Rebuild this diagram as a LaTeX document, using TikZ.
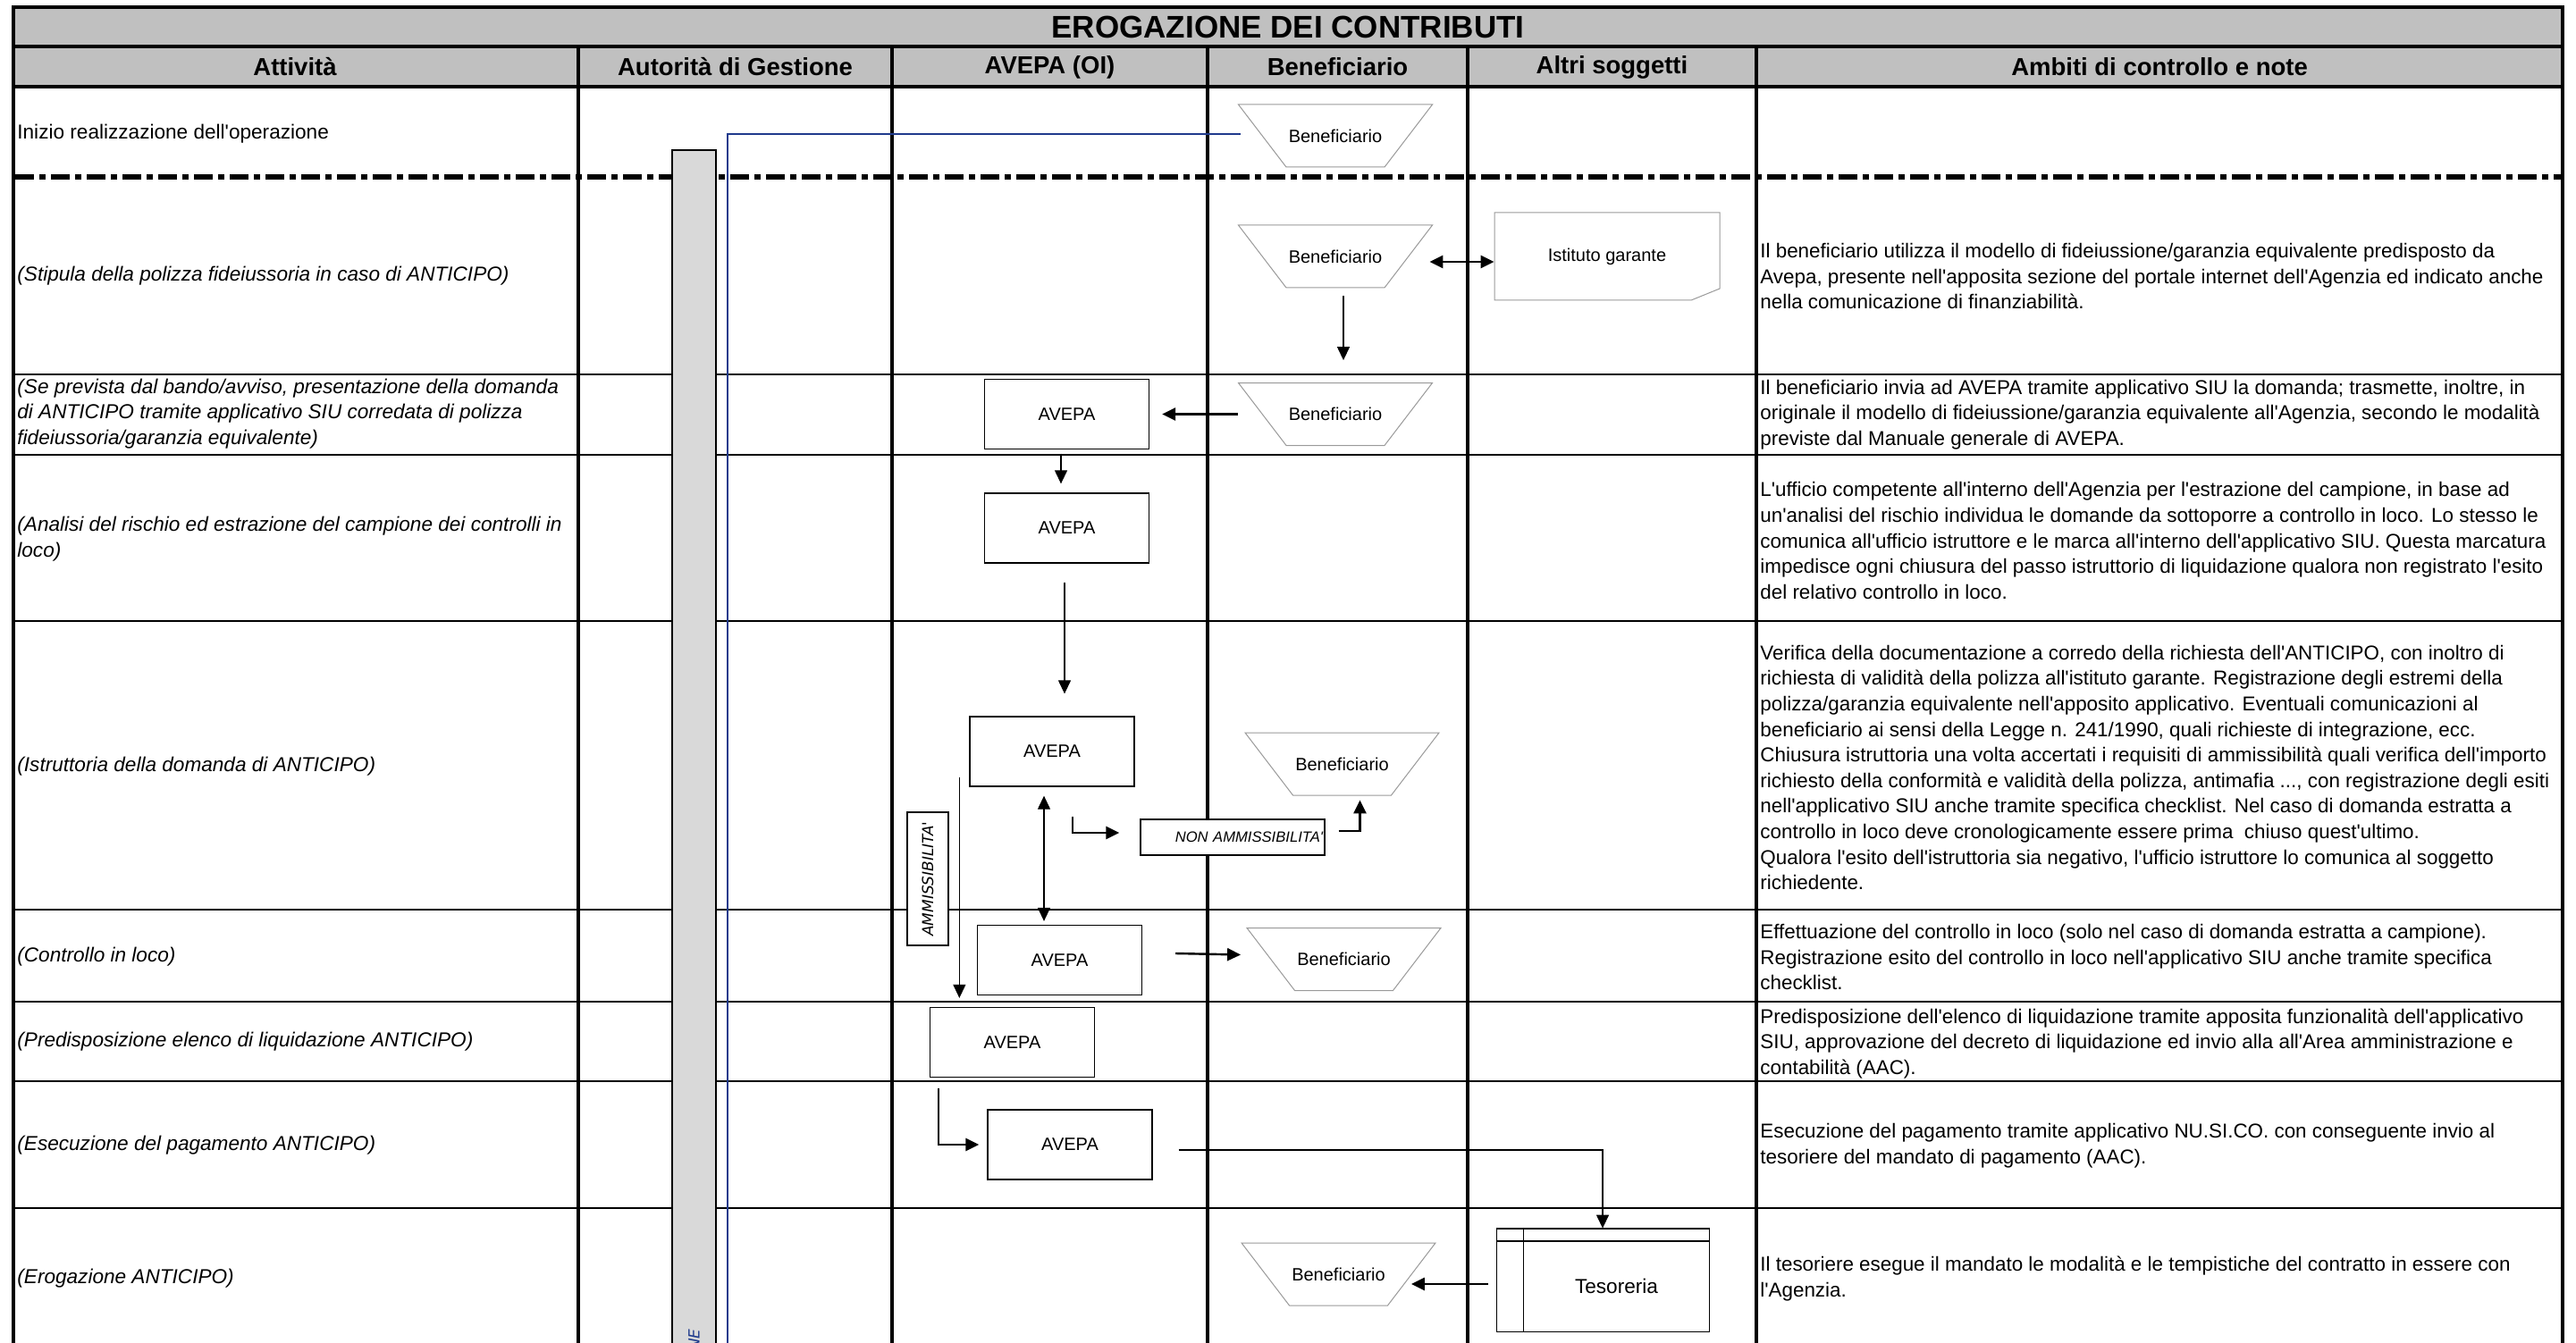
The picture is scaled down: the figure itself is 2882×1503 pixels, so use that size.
\documentclass[tikz,border=0pt]{standalone}
\usepackage{fontspec}
\newfontfamily\arial{Liberation Sans}
\newfontfamily\dejavu{DejaVu Sans}
\usetikzlibrary{arrows.meta}
\definecolor{hdrgray}{HTML}{C0C0C0}
\definecolor{bargray}{HTML}{D9D9D9}
\definecolor{navyline}{HTML}{1F3A8C}
\definecolor{trapgray}{HTML}{9A9A9A}
\newcommand\trapz[1]{\draw[trap, shift={(#1.center)}] (-108.5,-35) -- (108.5,-35) -- (55,35) -- (-55,35) -- cycle;}
\begin{document}
\begin{tikzpicture}[x=0.5pt,y=-0.5pt,
  every node/.style={font=\arial, inner sep=0pt},
  frame/.style={line width=2.25pt},
  lane/.style={line width=2.25pt},
  rowline/.style={line width=0.9pt},
  dashdot/.style={line width=3pt, dash pattern=on 10.5pt off 3pt on 3.5pt off 3pt},
  hdr/.style={font=\arial\bfseries\fontsize{13.75}{16}\selectfont},
  act/.style={anchor=west, align=left, font=\arial\itshape\fontsize{11.3}{14.3}\selectfont},
  note/.style={anchor=west, align=left, font=\arial\fontsize{11.2}{14.3}\selectfont},
  avepa/.style={draw, fill=white, line width=0.65pt, minimum width=92pt, minimum height=39pt, font=\arial\fontsize{10}{12}\selectfont},
  benef/.style={minimum width=80pt, minimum height=35pt, font=\arial\fontsize{10}{12}\selectfont},
  trap/.style={draw=trapgray, line width=0.5pt},
  tip/.tip={Triangle[length=7.5pt,width=7pt]},
  arr/.style={line width=0.6pt, -tip},
  arrthick/.style={line width=1.2pt, -tip},
  dblthin/.style={line width=0.6pt, tip-tip},
  dblthick/.style={line width=1.2pt, tip-tip}
]
\useasboundingbox (0,0) rectangle (2882,1503);
\fill[white] (0,0) rectangle (2882,1503);
\fill[hdrgray] (15,8) rectangle (2867,97);

% grid
\foreach \yy in {419,509,695,1018,1121,1210,1352} \draw[rowline] (15,\yy) -- (2867,\yy);
\draw[dashdot] (17,198) -- (2865,198);
\foreach \xx in {647,998,1351,1642,1965} \draw[lane] (\xx,52) -- (\xx,1503);
\draw[line width=1.75pt] (15,52) -- (2867,52);
\draw[line width=2.25pt] (15,97) -- (2867,97);
\draw[frame] (15,1503) -- (15,8) -- (2867,8) -- (2867,1503);

% title and headers
\node[font=\arial\bfseries\fontsize{17.5}{20}\selectfont] (title) at (1441,30) {EROGAZIONE DEI CONTRIBUTI};
\node[hdr] (h1) at (330,75) {Attività};
\node[hdr] (h2) at (822.5,75) {Autorità di Gestione};
\node[hdr] (h3) at (1174.5,75) {AVEPA (OI)};
\node[hdr] (h4) at (1496.5,75) {Beneficiario};
\node[hdr] (h5) at (1803.5,75) {Altri soggetti};
\node[hdr] (h6) at (2416,75) {Ambiti di controllo e note};

% vertical gray bar
\draw[fill=bargray, line width=0.7pt] (752,168) rectangle (801,1515);
\draw[line width=1.2pt] (752,168) -- (801,168);
\node[rotate=90, anchor=east, text=navyline, font=\dejavu\itshape\fontsize{8.5}{10}\selectfont] (bartxt) at (776.5,1487) {NE};

% activities
\node[anchor=west, font=\arial\fontsize{11.3}{14.3}\selectfont] (act1) at (19,150) {Inizio realizzazione dell'operazione};
\node[act] (act2) at (19,309) {(Stipula della polizza fideiussoria in caso di ANTICIPO)};
\node[act] (act3) at (19,463) {(Se prevista dal bando/avviso, presentazione della domanda\\di ANTICIPO tramite applicativo SIU corredata di polizza\\fideiussoria/garanzia equivalente)};
\node[act] (act4) at (19,603) {(Analisi del rischio ed estrazione del campione dei controlli in\\loco)};
\node[act] (act5) at (19,858) {(Istruttoria della domanda di ANTICIPO)};
\node[act] (act6) at (19,1071) {(Controllo in loco)};
\node[act] (act7) at (19,1166) {(Predisposizione elenco di liquidazione ANTICIPO)};
\node[act] (act8) at (19,1282) {(Esecuzione del pagamento ANTICIPO)};
\node[act] (act9) at (19,1431) {(Erogazione ANTICIPO)};

% notes
\node[note] (n2) at (1969,309) {Il beneficiario utilizza il modello di fideiussione/garanzia equivalente predisposto da\\Avepa, presente nell'apposita sezione del portale internet dell'Agenzia ed indicato anche\\nella comunicazione di finanziabilità.};
\node[note] (n3) at (1969,464) {Il beneficiario invia ad AVEPA tramite applicativo SIU la domanda; trasmette, inoltre, in\\originale il modello di fideiussione/garanzia equivalente all'Agenzia, secondo le modalità\\previste dal Manuale generale di AVEPA.};
\node[note] (n4) at (1969,605) {L'ufficio competente all'interno dell'Agenzia per l'estrazione del campione, in base ad\\un'analisi del rischio individua le domande da sottoporre a controllo in loco. Lo stesso le\\comunica all'ufficio istruttore e le marca all'interno dell'applicativo SIU. Questa marcatura\\impedisce ogni chiusura del passo istruttorio di liquidazione qualora non registrato l'esito\\del relativo controllo in loco.};
\node[note] (n5) at (1969,859) {Verifica della documentazione a corredo della richiesta dell'ANTICIPO, con inoltro di\\richiesta di validità della polizza all'istituto garante. Registrazione degli estremi della\\polizza/garanzia equivalente nell'apposito applicativo. Eventuali comunicazioni al\\beneficiario ai sensi della Legge n. 241/1990, quali richieste di integrazione, ecc.\\Chiusura istruttoria una volta accertati i requisiti di ammissibilità quali verifica dell'importo\\richiesto della conformità e validità della polizza, antimafia ..., con registrazione degli esiti\\nell'applicativo SIU anche tramite specifica checklist. Nel caso di domanda estratta a\\controllo in loco deve cronologicamente essere prima \ chiuso quest'ultimo.\\Qualora l'esito dell'istruttoria sia negativo, l'ufficio istruttore lo comunica al soggetto\\richiedente.};
\node[note] (n6) at (1969,1071) {Effettuazione del controllo in loco (solo nel caso di domanda estratta a campione).\\Registrazione esito del controllo in loco nell'applicativo SIU anche tramite specifica\\checklist.};
\node[note] (n7) at (1969,1168) {Predisposizione dell'elenco di liquidazione tramite apposita funzionalità dell'applicativo\\SIU, approvazione del decreto di liquidazione ed invio alla all'Area amministrazione e\\contabilità (AAC).};
\node[note] (n8) at (1969,1282) {Esecuzione del pagamento tramite applicativo NU.SI.CO. con conseguente invio al\\tesoriere del mandato di pagamento (AAC).};
\node[note] (n9) at (1969,1431) {Il tesoriere esegue il mandato le modalità e le tempistiche del contratto in essere con\\l'Agenzia.};

% Beneficiario trapezoids
\node[benef] (b1) at (1494,152) {Beneficiario}; \trapz{b1}
\node[benef] (b2) at (1494,287) {Beneficiario}; \trapz{b2}
\node[benef] (b3) at (1494,463.5) {Beneficiario}; \trapz{b3}
\node[benef] (b5) at (1501.5,855) {Beneficiario}; \trapz{b5}
\node[benef] (b6) at (1503.5,1073.5) {Beneficiario}; \trapz{b6}
\node[benef] (b9) at (1497.5,1426) {Beneficiario}; \trapz{b9}

% Istituto garante
\node[minimum width=126pt, minimum height=49pt, font=\arial\fontsize{10}{12}\selectfont] (ig) at (1798,287) {Istituto garante};
\draw[trap, shift={(ig.center)}] (-126,-49) -- (126,-49) -- (126,36) -- (94,49) -- (-126,49) -- cycle;

% AVEPA boxes
\node[avepa] (a3) at (1193.5,463.5) {AVEPA};
\node[avepa] (a4) at (1193.5,591) {AVEPA};
\node[avepa] (a5) at (1177,841) {AVEPA};
\node[avepa] (a6) at (1185.5,1074.5) {AVEPA};
\node[avepa] (a7) at (1132.5,1166.5) {AVEPA};
\node[avepa] (a8) at (1197,1281) {AVEPA};

% labels
\node[draw, fill=white, line width=0.65pt, minimum width=103pt, minimum height=20pt, text width=101pt, align=right, font=\arial\itshape\fontsize{8.3}{10}\selectfont] (non) at (1379,937) {NON AMMISSIBILITA'};
\node[draw, fill=white, line width=0.65pt, rotate=90, minimum width=74.5pt, minimum height=23pt, font=\dejavu\itshape\fontsize{8.5}{10}\selectfont] (amm) at (1038,983.5) {AMMISSIBILITA'};

% Tesoreria
\node[minimum width=103.5pt, minimum height=50.5pt, font=\arial\fontsize{11.3}{13}\selectfont] (tes) at (1808.5,1439.5) {Tesoreria};
\draw[line width=0.6pt] ([xshift=-15pt,yshift=7pt]tes.north west) rectangle (tes.south east);
\draw[line width=0.9pt] ([xshift=-15pt,yshift=7pt]tes.north west) -- ([yshift=7pt]tes.north east);
\draw[line width=0.9pt] ([xshift=-15pt]tes.north west) -- (tes.north east);
\draw[line width=0.6pt] ([yshift=7pt]tes.north west) -- (tes.south west);

% connectors
\coordinate (blueend) at (814,1503);
\draw[navyline, line width=0.9pt] ([xshift=-13pt,yshift=1pt]b1.west) -| (blueend);
\draw[dblthick] ([xshift=12.5pt,yshift=-3pt]b2.east) -- ([yshift=-3pt]ig.west);
\draw[arr] ([xshift=4.5pt,yshift=-4.25pt]b2.south) -- ([xshift=4.5pt,yshift=12.5pt]b3.north);
\draw[arrthick] ([xshift=-14.5pt]b3.west) -- ([xshift=7pt]a3.east);
\draw[arr] ([xshift=-3.25pt,yshift=-2.25pt]a3.south) -- ([xshift=-3.25pt,yshift=5pt]a4.north);
\draw[arr] ([xshift=-1.25pt,yshift=-10.5pt]a4.south) -- ([xshift=7pt,yshift=12.5pt]a5.north);
\draw[dblthin] ([xshift=-4.5pt,yshift=-5pt]a5.south) -- ([xshift=-8.75pt,yshift=2pt]a6.north);
\draw[arrthick] ([xshift=11.5pt,yshift=-16.5pt]a5.south) |- ([xshift=-11.5pt,yshift=2.5pt]non.west);
\draw[arrthick] ([xshift=7.5pt,yshift=3.5pt]non.east) -| ([xshift=10pt,yshift=-2.5pt]b5.south);
\coordinate (ammtop) at ([xshift=-5.5pt,yshift=5.5pt]a5.south west);
\draw[arr, shorten >=5pt] (ammtop) -- (ammtop |- a7.north);
\draw[arrthick] ([xshift=18.5pt,yshift=3.75pt]a6.east) -- ([xshift=-17.5pt,yshift=2.5pt]b6.west);
\draw[arrthick] ([xshift=-41.25pt,yshift=-6pt]a7.south) |- ([xshift=-4.5pt]a8.west);
\draw[arr] ([xshift=14.5pt,yshift=-3pt]a8.east) -| ([xshift=-7.75pt,yshift=7pt]tes.north);
\draw[arrthick] ([xshift=-20pt,yshift=1.25pt]tes.west) -- ([xshift=0.5pt,yshift=-5.5pt]b9.east);
\end{tikzpicture}
\end{document}
